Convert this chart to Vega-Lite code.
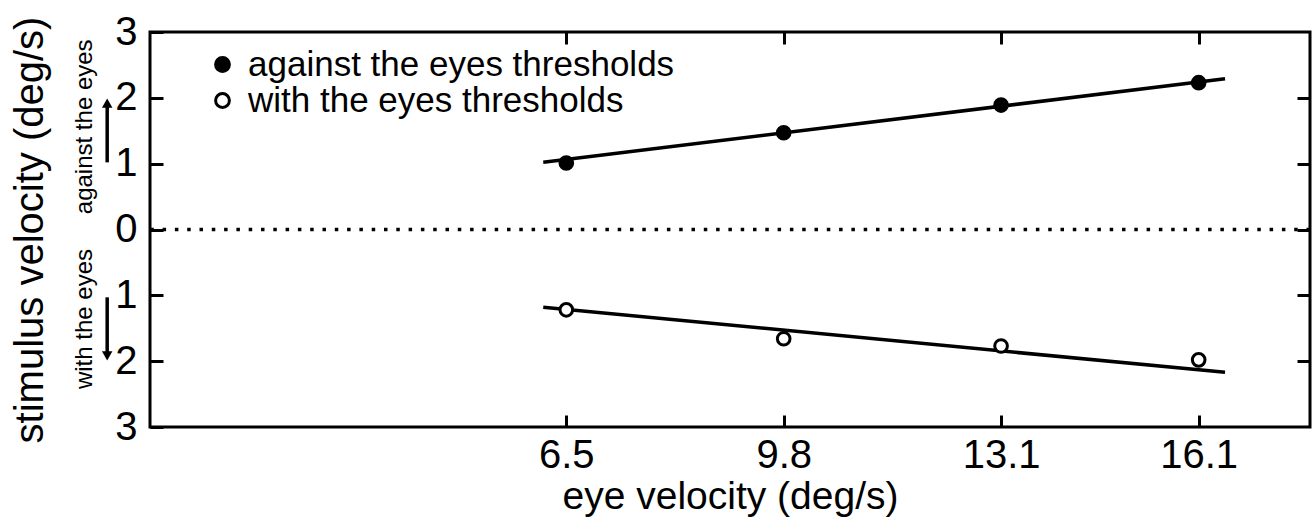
{
  "$schema": "https://vega.github.io/schema/vega-lite/v6.json",
  "width": 1160,
  "height": 395,
  "autosize": "none",
  "padding": {"left": 150, "top": 32, "right": 5, "bottom": 101},
  "background": "white",
  "config": {
    "view": {"stroke": "black", "strokeWidth": 3},
    "font": "Liberation Sans",
    "axis": {"grid": false, "domainColor": "black", "domainWidth": 3, "tickColor": "black", "tickWidth": 3, "labelColor": "black", "titleColor": "black", "labelFont": "Liberation Sans", "titleFont": "Liberation Sans", "titleFontWeight": "normal"}
  },
  "datasets": {
    "points": [
      {"eye": 6.5, "stim": 1.01, "series": "against the eyes thresholds"},
      {"eye": 9.8, "stim": 1.47, "series": "against the eyes thresholds"},
      {"eye": 13.1, "stim": 1.89, "series": "against the eyes thresholds"},
      {"eye": 16.1, "stim": 2.23, "series": "against the eyes thresholds"},
      {"eye": 6.5, "stim": -1.22, "series": "with the eyes thresholds"},
      {"eye": 9.8, "stim": -1.66, "series": "with the eyes thresholds"},
      {"eye": 13.1, "stim": -1.77, "series": "with the eyes thresholds"},
      {"eye": 16.1, "stim": -1.98, "series": "with the eyes thresholds"}
    ],
    "fits": [
      {"eye": 6.15, "stim": 1.02, "series": "against"},
      {"eye": 16.5, "stim": 2.29, "series": "against"},
      {"eye": 6.15, "stim": -1.18, "series": "with"},
      {"eye": 16.5, "stim": -2.17, "series": "with"}
    ],
    "zero": [{"stim": 0}],
    "notes": [
      {"eye": -0.81, "stim": 1.56, "text": "against the eyes"},
      {"eye": -0.81, "stim": -1.36, "text": "with the eyes"}
    ],
    "arrows": [
      {"eye": -0.47, "from": 1.02, "to": 1.88, "tip": 1.92, "dir": "up"},
      {"eye": -0.47, "from": -1.03, "to": -1.88, "tip": -1.92, "dir": "down"}
    ]
  },
  "resolve": {"axis": {"x": "independent", "y": "independent"}},
  "layer": [
    {
      "data": {"name": "zero"},
      "mark": {"type": "rule", "color": "black", "strokeWidth": 3.5, "strokeDash": [3.5, 8.8]},
      "encoding": {
        "y": {"field": "stim", "type": "quantitative", "scale": {"domain": [-3, 3]}, "axis": null}
      }
    },
    {
      "data": {"name": "fits"},
      "mark": {"type": "line", "color": "black", "strokeWidth": 3.5},
      "encoding": {
        "x": {"field": "eye", "type": "quantitative", "scale": {"domain": [0.18, 17.79], "nice": false, "zero": false},
          "axis": {"orient": "top", "values": [6.5, 9.8, 13.1, 16.1], "labels": false, "tickSize": -12, "title": null, "domain": false}},
        "y": {"field": "stim", "type": "quantitative", "scale": {"domain": [-3, 3], "nice": false},
          "axis": {"orient": "right", "values": [-2, -1, 0, 1, 2], "labels": false, "tickSize": -13, "title": null, "domain": false}},
        "detail": {"field": "series"}
      }
    },
    {
      "data": {"name": "points"},
      "mark": {"type": "point", "filled": true, "stroke": "black", "strokeWidth": 3, "size": 160, "opacity": 1, "clip": false},
      "encoding": {
        "x": {"field": "eye", "type": "quantitative",
          "axis": {"orient": "bottom", "values": [6.5, 9.8, 13.1, 16.1], "format": ".1f", "tickSize": -12, "labelPadding": 20, "labelFontSize": 40, "title": "eye velocity (deg/s)", "titleFontSize": 39, "titlePadding": 2, "domain": false}},
        "y": {"field": "stim", "type": "quantitative",
          "axis": {"orient": "left", "values": [-3, -2, -1, 0, 1, 2, 3], "labelExpr": "abs(datum.value)", "tickSize": -13, "labelPadding": 26, "labelFontSize": 40, "title": "stimulus velocity (deg/s)", "titleFontSize": 40, "titleX": -120, "titleBaseline": "middle", "domain": false}},
        "fill": {"field": "series", "type": "nominal",
          "scale": {"domain": ["against the eyes thresholds", "with the eyes thresholds"], "range": ["black", "white"]},
          "legend": {"title": null, "orient": "none", "legendX": 55, "legendY": 15, "labelFontSize": 35, "labelFont": "Liberation Sans", "labelColor": "black", "labelLimit": 0, "symbolType": "circle", "symbolSize": 190, "symbolStrokeColor": "black", "symbolStrokeWidth": 3, "labelOffset": 8, "rowPadding": -3}}
      }
    },
    {
      "data": {"name": "notes"},
      "mark": {"type": "text", "angle": 270, "align": "center", "baseline": "middle", "fontSize": 24, "font": "Liberation Sans", "color": "black", "clip": false},
      "encoding": {
        "x": {"field": "eye", "type": "quantitative", "axis": null},
        "y": {"field": "stim", "type": "quantitative", "axis": null},
        "text": {"field": "text"}
      }
    },
    {
      "data": {"name": "arrows"},
      "mark": {"type": "rule", "color": "black", "strokeWidth": 3.5, "clip": false},
      "encoding": {
        "x": {"field": "eye", "type": "quantitative", "axis": null},
        "y": {"field": "from", "type": "quantitative", "axis": null},
        "y2": {"field": "to"}
      }
    },
    {
      "data": {"name": "arrows"},
      "mark": {"type": "point", "filled": true, "color": "black", "size": 110, "opacity": 1, "clip": false},
      "encoding": {
        "x": {"field": "eye", "type": "quantitative", "axis": null},
        "y": {"field": "tip", "type": "quantitative", "axis": null},
        "shape": {"field": "dir", "type": "nominal", "scale": {"domain": ["up", "down"], "range": ["triangle-up", "triangle-down"]}, "legend": null}
      }
    }
  ]
}
